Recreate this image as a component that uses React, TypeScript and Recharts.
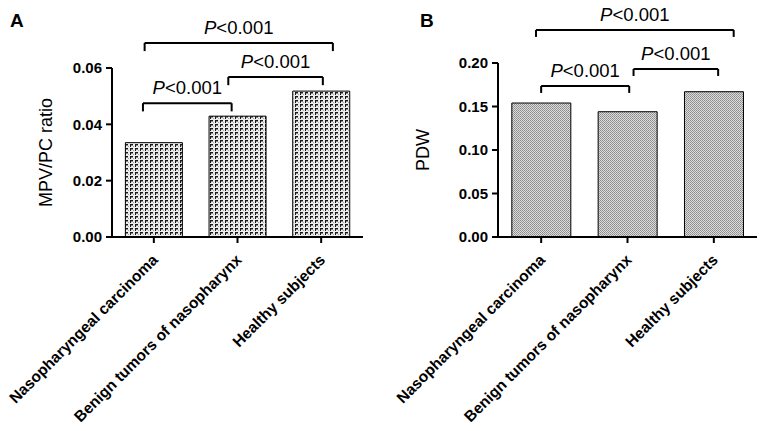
import React from 'react';
import { BarChart, Bar, XAxis, YAxis, ReferenceLine } from 'recharts';

const categories = ['Nasopharyngeal carcinoma', 'Benign tumors of nasopharynx', 'Healthy subjects'];
const categoryPositions = [0.5, 1.5, 2.5];
const mpvPcRatio = [0.0335, 0.0429, 0.0518];
const pdwValues = [0.154, 0.144, 0.167];
const ticksA = [0, 0.02, 0.04, 0.06];
const ticksB = [0, 0.05, 0.1, 0.15, 0.2];
const pLabel = 'P<0.001';

// brackets: [fromPos, toPos, yLevel] positions on a 0..3 category scale
const bracketsA = [
  [0.37, 1.43, 0.0475],
  [1.39, 2.52, 0.0568],
  [0.39, 2.64, 0.0689],
];
const bracketsB = [
  [0.5, 1.52, 0.1736],
  [1.57, 2.55, 0.1931],
  [0.44, 2.73, 0.238],
];

const FONT = "'Liberation Sans', Arial, Helvetica, sans-serif";

const dataA = categories.map((c, i) => ({ name: c, pos: categoryPositions[i], value: mpvPcRatio[i] }));
const dataB = categories.map((c, i) => ({ name: c, pos: categoryPositions[i], value: pdwValues[i] }));

function XTick(props: any) {
  const { x, y, payload } = props;
  const idx = categoryPositions.indexOf(payload.value);
  const label = idx >= 0 ? categories[idx] : '';
  return (
    <g transform={`translate(${x + 5},${y + 16})`}>
      <text x={0} y={0} textAnchor="end" transform="rotate(-45)" fontWeight="bold" fontSize={15.5} fill="#000" fontFamily={FONT}>
        {label}
      </text>
    </g>
  );
}

const yLabel = (text: string, cx: number) => (props: any) => {
  const vb = props.viewBox || { x: 0, y: 0, width: 0, height: 0 };
  const x = vb.x + cx;
  const y = vb.y + vb.height / 2;
  return (
    <text x={x} y={y} transform={`rotate(-90 ${x} ${y})`} textAnchor="middle" dominantBaseline="central" fontSize={18} fontFamily={FONT} fill="#000">
      {text}
    </text>
  );
};

const pText = (props: any) => {
  const vb = props.viewBox || { x: 0, y: 0, width: 0, height: 0 };
  const x = vb.x + vb.width / 2;
  const y = vb.y - 9;
  return (
    <text x={x} y={y} textAnchor="middle" fontSize={18.5} fontFamily={FONT} fill="#000">
      <tspan fontStyle="italic">P</tspan>
      <tspan>{pLabel.slice(1)}</tspan>
    </text>
  );
};

function renderBrackets(brackets: number[][], leg: number) {
  const out: any[] = [];
  brackets.forEach((b, i) => {
    const [a, c, y] = b;
    out.push(
      <ReferenceLine key={`h${i}`} ifOverflow="visible" stroke="#000" strokeWidth={2}
        segment={[{ x: a, y }, { x: c, y }]} label={pText} />
    );
    out.push(
      <ReferenceLine key={`l${i}`} ifOverflow="visible" stroke="#000" strokeWidth={2}
        segment={[{ x: a, y }, { x: a, y: y - leg }]} />
    );
    out.push(
      <ReferenceLine key={`r${i}`} ifOverflow="visible" stroke="#000" strokeWidth={2}
        segment={[{ x: c, y }, { x: c, y: y - leg }]} />
    );
  });
  return out;
}

const axisStyle = { stroke: '#000', strokeWidth: 2 };
const tickStyle = { fill: '#000', fontSize: 15, fontWeight: 'bold' as const, fontFamily: FONT };

export default function App() {
  return (
    <div style={{ position: 'absolute', left: 0, top: 0, width: 764, height: 431, background: '#fff' }}>
      <svg width={764} height={431} style={{ position: 'absolute', left: 0, top: 0 }}>
        <defs>
          <pattern id="patA" width={5} height={4} patternUnits="userSpaceOnUse">
            <rect x={0} y={0} width={5} height={4} fill="#ececec" />
            <rect x={0} y={0} width={3} height={1} fill="#1a1a1a" />
            <rect x={0} y={1} width={1} height={2} fill="#1a1a1a" />
            <rect x={1} y={1} width={2} height={1} fill="#8a8a8a" />
            <rect x={3} y={2} width={1} height={1} fill="#aaa" />
          </pattern>
          <pattern id="patB" width={2} height={2} patternUnits="userSpaceOnUse">
            <rect x={0} y={0} width={2} height={2} fill="#dcdcdc" />
            <rect x={0} y={0} width={1} height={1} fill="#8a8a8a" />
            <rect x={1} y={1} width={1} height={1} fill="#9a9a9a" />
          </pattern>
        </defs>
        <text x={10} y={27} fontSize={19} fontWeight="bold" fontFamily={FONT} fill="#000">A</text>
        <text x={420} y={27} fontSize={19} fontWeight="bold" fontFamily={FONT} fill="#000">B</text>
      </svg>

      <div style={{ position: 'absolute', left: 0, top: 0 }}>
        <BarChart width={380} height={431} data={dataA} margin={{ top: 68, right: 17, bottom: 0, left: 0 }} barCategoryGap="16%">
          <XAxis dataKey="pos" type="number" domain={[0, 3]} allowDataOverflow ticks={categoryPositions} height={194} interval={0}
            tick={<XTick />} axisLine={axisStyle} tickLine={axisStyle} tickSize={6} />
          <YAxis width={112} domain={[0, 0.06]} ticks={ticksA} tickFormatter={(v: number) => v.toFixed(2)}
            axisLine={axisStyle} tickLine={axisStyle} tickSize={6} tickMargin={4} tick={tickStyle}
            label={yLabel('MPV/PC ratio', 46)} />
          <Bar dataKey="value" fill="url(#patA)" stroke="#000" strokeWidth={1} isAnimationActive={false} />
          {renderBrackets(bracketsA, 0.0029)}
        </BarChart>
      </div>

      <div style={{ position: 'absolute', left: 380, top: 0 }}>
        <BarChart width={384} height={431} data={dataB} margin={{ top: 63, right: 7, bottom: 0, left: 0 }} barCategoryGap="16%">
          <XAxis dataKey="pos" type="number" domain={[0, 3]} allowDataOverflow ticks={categoryPositions} height={194} interval={0}
            tick={<XTick />} axisLine={axisStyle} tickLine={axisStyle} tickSize={6} />
          <YAxis width={118} domain={[0, 0.2]} ticks={ticksB} tickFormatter={(v: number) => v.toFixed(2)}
            axisLine={axisStyle} tickLine={axisStyle} tickSize={6} tickMargin={4} tick={tickStyle}
            label={yLabel('PDW', 43)} />
          <Bar dataKey="value" fill="url(#patB)" stroke="#000" strokeWidth={1} isAnimationActive={false} />
          {renderBrackets(bracketsB, 0.008)}
        </BarChart>
      </div>
    </div>
  );
}
